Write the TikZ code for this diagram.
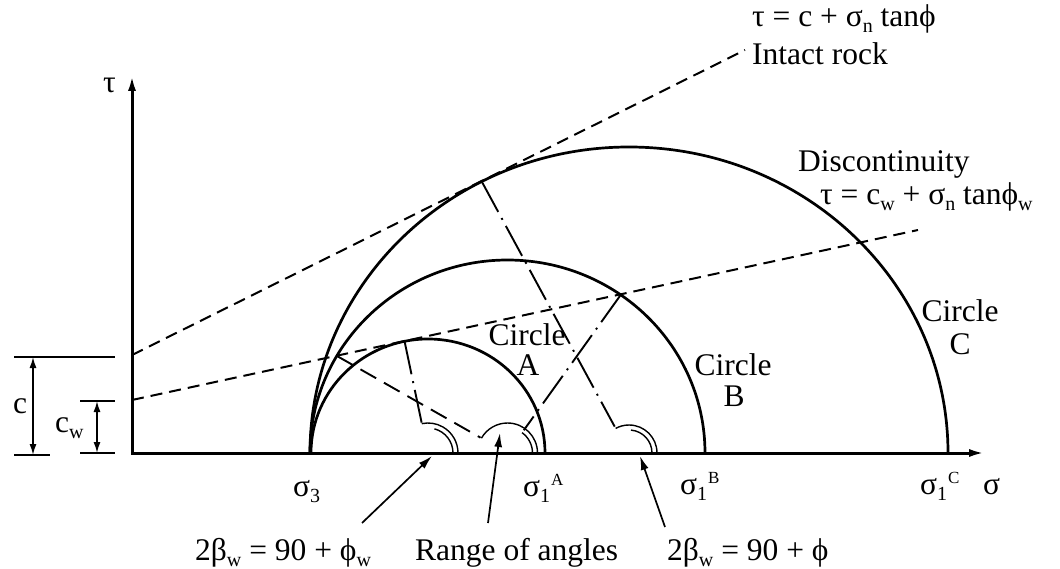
\documentclass[tikz,border=0pt]{standalone}
\usepackage{fontspec}
\setmainfont{Liberation Serif}
\usetikzlibrary{arrows.meta,calc}
\newcommand\sbs[1]{\raisebox{-6pt}{\fontsize{20}{20}\selectfont #1}}
\newcommand\sps[1]{\raisebox{11pt}{\fontsize{17}{17}\selectfont #1}}
\begin{document}
\begin{tikzpicture}[x=1pt,y=-1pt,
  txt/.style={font=\fontsize{31.5}{36}\selectfont, inner sep=0pt, anchor=base west},
  ctxt/.style={font=\fontsize{31.5}{36}\selectfont, inner sep=0pt, anchor=base},
  axisline/.style={line width=3pt, {Latex[length=16pt,width=8pt]}-{Latex[length=16pt,width=8pt]}},
  mohr/.style={line width=2.7pt},
  envelope/.style={line width=2pt, dash pattern=on 12pt off 7pt},
  radial/.style={line width=1.9pt, dash pattern=on 34pt off 7pt on 2pt off 7pt},
  radialdash/.style={line width=1.9pt, dash pattern=on 18pt off 9pt},
  angmark/.style={line width=1.4pt},
  pointer/.style={line width=1.7pt, -{Latex[length=14pt,width=8pt]}},
  dimline/.style={line width=1.3pt},
  dimthick/.style={line width=2.6pt},
  dimarrow/.style={line width=1.5pt, {Latex[length=11pt,width=7pt]}-{Latex[length=11pt,width=7pt]}},
]
\useasboundingbox (0,0) rectangle (1060,569);
% key points
\coordinate (O) at (132,453);
\coordinate (Ttip) at (132,75);
\coordinate (Stip) at (985,453);
\coordinate (Ac) at (428,453);
\coordinate (Bc) at (507.5,453);
\coordinate (Cc) at (629,453);
\coordinate (A1) at (545,453);
\coordinate (B1) at (705,453);
\coordinate (C1) at (948,453);
\coordinate (ci) at (132,355);
\coordinate (ce) at (745,50);
\coordinate (wi) at (132,400);
\coordinate (we) at (918,230);
\coordinate (TA) at (404.5,341);
\coordinate (BL) at (337,356);
\coordinate (BR) at (621,294.5);
\coordinate (TC) at (482,182);
% axes
\draw[axisline] (Ttip) -- (O) -- (Stip);
% envelopes
\draw[envelope] (ci) -- (ce);
\draw[envelope] (wi) -- (we);
% Mohr circles
\draw[mohr] (A1) arc[start angle=0,end angle=-180,x radius=117,y radius=114];
\draw[mohr] (B1) arc[start angle=0,end angle=-180,x radius=197.5,y radius=193];
\draw[mohr] (C1) arc[start angle=0,end angle=-180,x radius=319,y radius=306];
% radial lines
\draw[radial] (TA) -- ($(Ac)!31pt!(TA)$);
\draw[radialdash] (BL) -- ($(Bc)!31pt!(BL)$);
\draw[radial] (BR) -- ($(Bc)!28pt!(BR)$);
\draw[radial] (TC) -- ($(Cc)!30pt!(TC)$);
% angle marks
\draw[angmark] ($(Ac)+(30,0)$) arc[start angle=0,end angle=-102,radius=30];
\draw[angmark] ($(Ac)+(25,0)$) arc[start angle=0,end angle=-75,radius=25];
\draw[angmark] ($(Bc)+(30,0)$) arc[start angle=0,end angle=-150.4,radius=30];
\draw[angmark] ($(Bc)+(25,0)$) arc[start angle=0,end angle=-54.4,radius=25];
\draw[angmark] ($(Cc)+(28,0)$) arc[start angle=0,end angle=-118.5,radius=28];
\draw[angmark] ($(Cc)+(23,0)$) arc[start angle=0,end angle=-85,radius=23];
% dimension marks
\coordinate (cT1) at (14,357); \coordinate (cT2) at (28,357); \coordinate (cT3) at (115,357);
\coordinate (cB1) at (14,455); \coordinate (cB2) at (50,455);
\coordinate (cA1) at (33,357); \coordinate (cA2) at (33,455);
\coordinate (wT1) at (80,401); \coordinate (wT2) at (115,401);
\coordinate (wB1) at (80,453); \coordinate (wB2) at (115,453);
\coordinate (wA1) at (97,401); \coordinate (wA2) at (97,453);
\draw[dimline] (cT1) -- (cT2);
\draw[dimthick] (cT2) -- (cT3);
\draw[dimline] (cB1) -- (cB2);
\draw[dimarrow] (cA1) -- (cA2);
\draw[dimline] (wT1) -- (wT2);
\draw[line width=2.2pt] (wB1) -- (wB2);
\draw[dimarrow] (wA1) -- (wA2);
% labels
\node[txt] (tau) at (103,93) {τ};
\node[txt] (eqI) at (752,27) {τ = c + σ\sbs{n} tanϕ};
\node[txt] (lI) at (752,65) {Intact rock};
\node[txt] (lD) at (798,172) {Discontinuity};
\node[txt] (eqD) at (820,205) {τ = c\sbs{w} + σ\sbs{n} tanϕ\sbs{w}};
\node[ctxt] (cA) at (527,345) {Circle};
\node[ctxt] (cAl) at (528,375) {A};
\node[ctxt] (cB) at (733,375) {Circle};
\node[ctxt] (cBl) at (734,406) {B};
\node[ctxt] (cC) at (960,322) {Circle};
\node[ctxt] (cCl) at (960,354) {C};
\node[txt] (lc) at (13,413) {c};
\node[txt] (lcw) at (55,432) {c\sbs{w}};
\node[txt] (s3) at (293,496) {σ\sbs{3}};
\node[txt] (s1A) at (523,496) {σ\sbs{1}\kern1pt\sps{A}};
\node[txt] (s1B) at (680,494) {σ\sbs{1}\kern1pt\sps{B}};
\node[txt] (s1C) at (920,494) {σ\sbs{1}\kern1pt\sps{C}};
\node[txt] (sig) at (983,494) {σ};
\node[txt] (bA) at (195,560) {2β\sbs{w} = 90 + ϕ\sbs{w}};
\node[txt] (bR) at (415,560) {Range of angles};
\node[txt] (bC) at (667,560) {2β\sbs{w} = 90 + ϕ};
% pointers
\coordinate (pA0) at (362,523); \coordinate (pA1) at (432,456);
\coordinate (pR0) at (488,523); \coordinate (pR1) at (500,433);
\coordinate (pC0) at (665,527); \coordinate (pC1) at (640,456);
\draw[pointer] (pA0) -- (pA1);
\draw[pointer] (pR0) -- (pR1);
\draw[pointer] (pC0) -- (pC1);
\end{tikzpicture}
\end{document}
